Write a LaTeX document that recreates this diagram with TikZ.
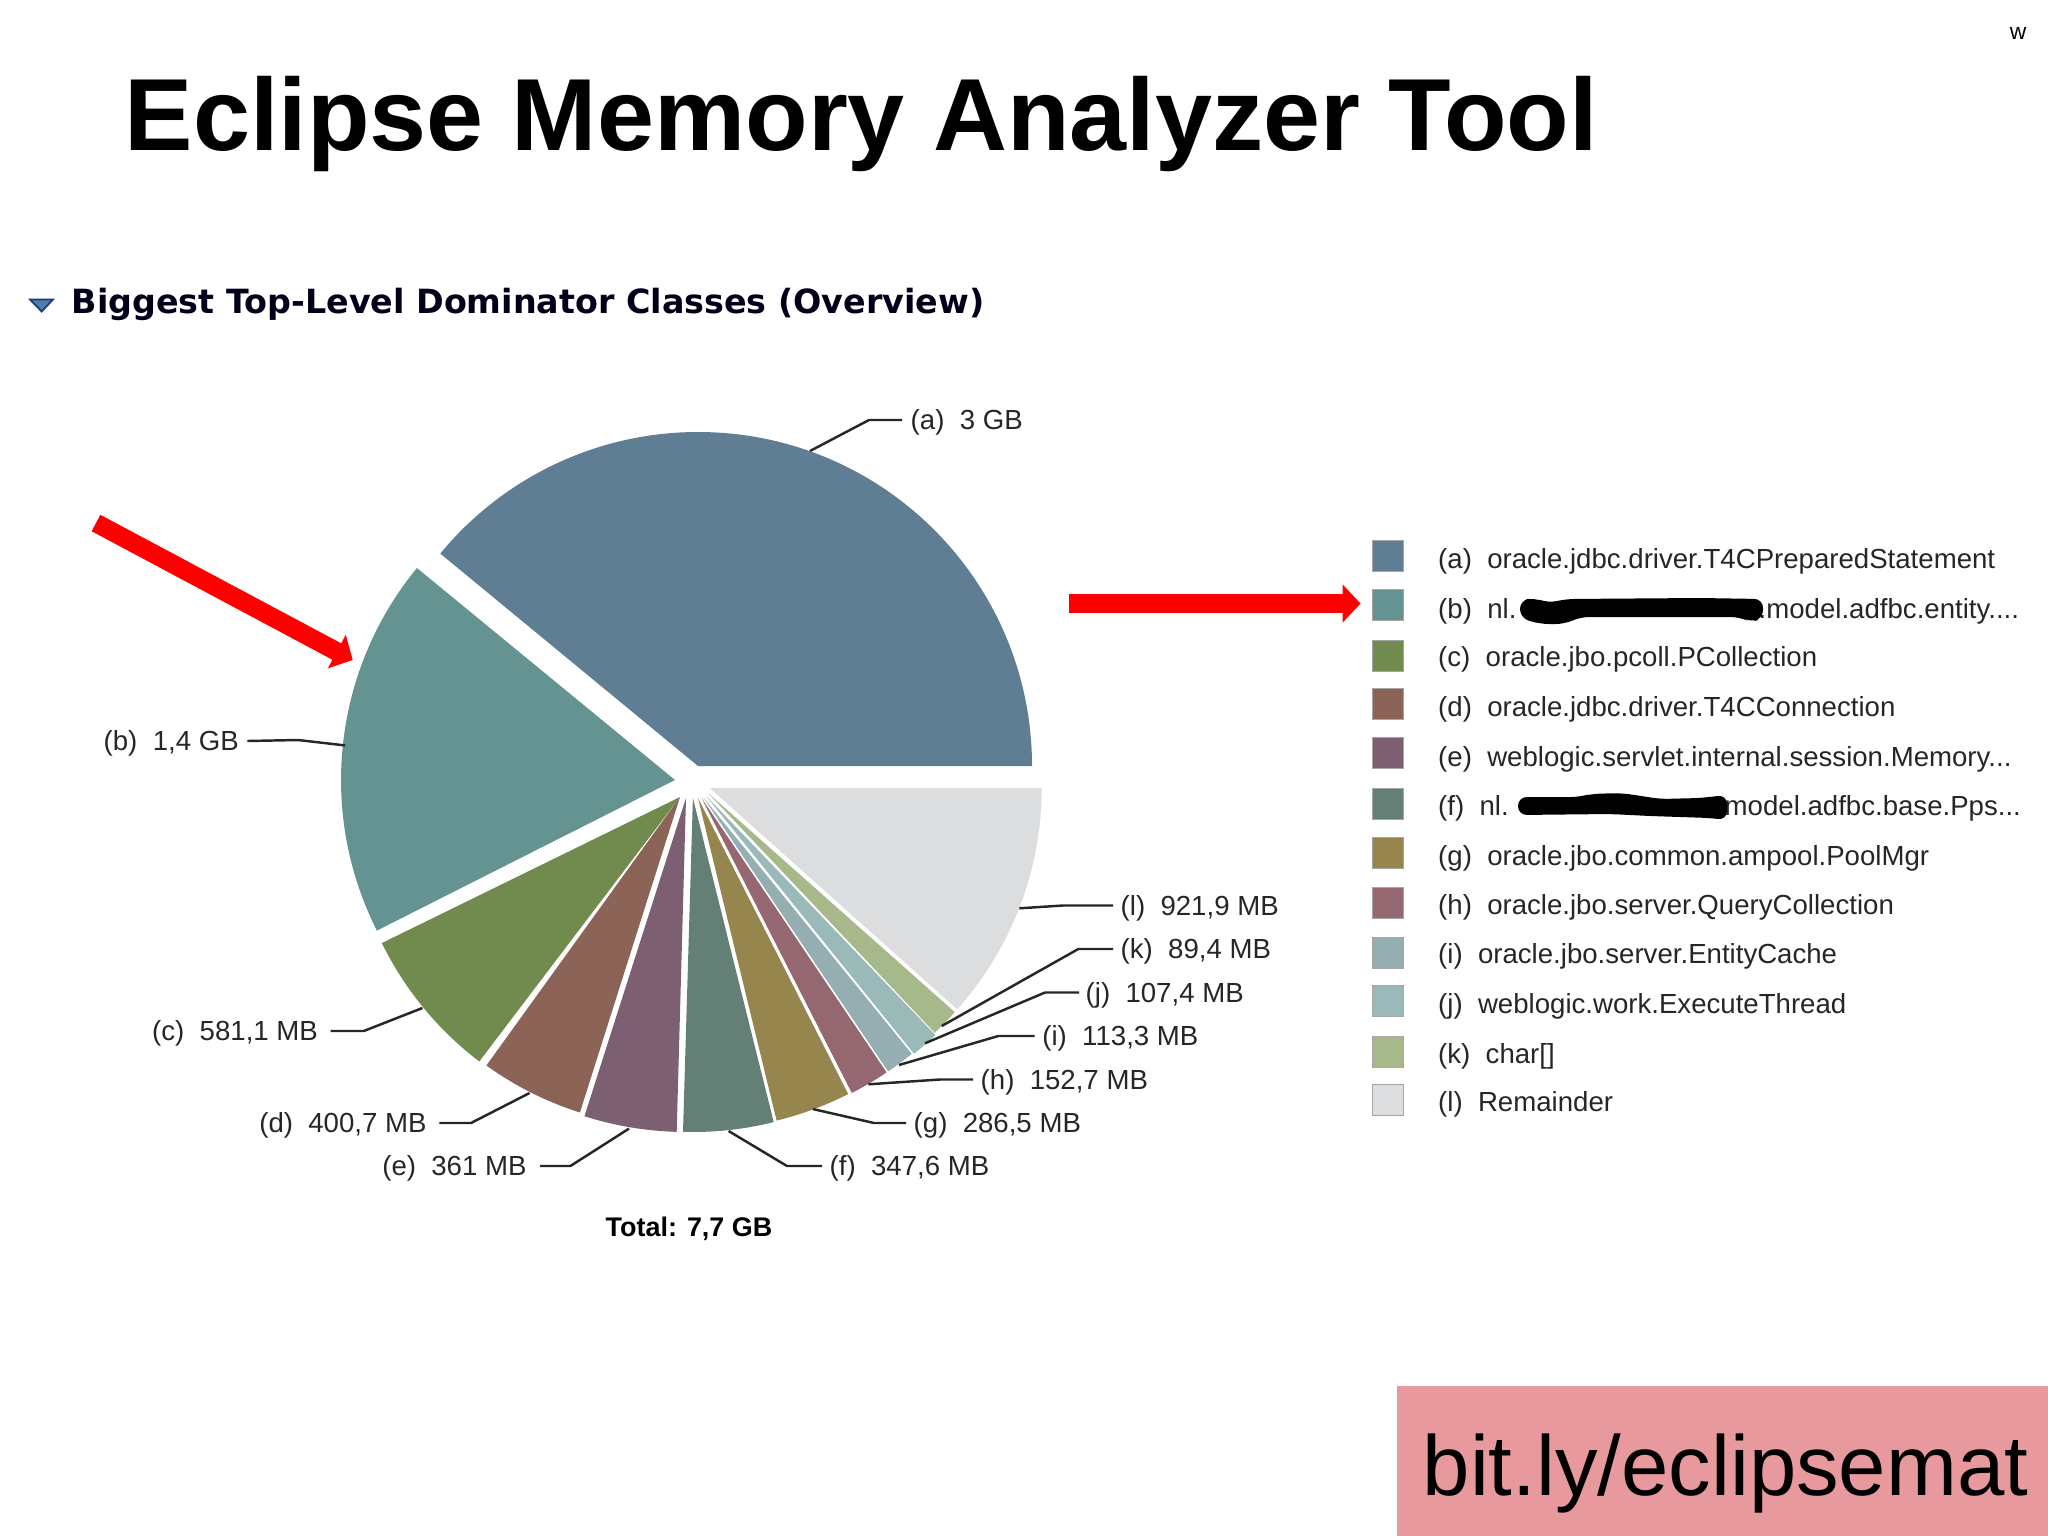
\documentclass[tikz,border=0pt]{standalone}
\usepackage{fontspec}
\setmainfont{Liberation Sans}
\newfontfamily\headfont{DejaVu Sans}
\usetikzlibrary{arrows.meta}
\definecolor{sliceA}{HTML}{5F7D93}
\definecolor{sliceB}{HTML}{649391}
\definecolor{sliceC}{HTML}{718B4F}
\definecolor{sliceD}{HTML}{8B6457}
\definecolor{sliceE}{HTML}{7D5F72}
\definecolor{sliceF}{HTML}{647F76}
\definecolor{sliceG}{HTML}{96864D}
\definecolor{sliceH}{HTML}{956770}
\definecolor{sliceI}{HTML}{94AEB2}
\definecolor{sliceJ}{HTML}{99BAB8}
\definecolor{sliceK}{HTML}{A7B88A}
\definecolor{sliceL}{HTML}{DCDDDF}
\definecolor{pinkbox}{HTML}{E8999D}
\definecolor{twistfill}{HTML}{4A7FA8}
\definecolor{twistline}{HTML}{1F3A7A}
\newcommand{\pieslice}[6]{\fill[#1] (#2,#3) -- ++(#4:#6) arc[start angle=#4, end angle=#5, radius=#6] -- cycle;}
\tikzset{
  chartlabel/.style={anchor=west, inner sep=0pt, text height=7.2pt, text depth=1.7pt, font=\fontsize{7.85}{9}\selectfont, text=black!85},
  legendtext/.style={anchor=west, inner sep=0pt, text height=7.2pt, text depth=1.7pt, font=\fontsize{7.85}{9}\selectfont, text=black!85},
  swatch/.style={draw=black!35, line width=0.3pt, minimum width=0.31cm, minimum height=0.31cm, inner sep=0pt},
  leader/.style={draw=black!85, line width=0.7pt},
  redarrow/.style={draw=red, line width=0.186cm, -{Triangle[length=0.18cm,width=0.37cm]}},
}
\begin{document}
\begin{tikzpicture}[x=0.01cm, y=0.01cm]
\useasboundingbox (0,0) rectangle (2048,-1536);
% Headings
\node[anchor=base west, inner sep=0pt, font=\fontsize{29.14}{32}\selectfont\bfseries] (title) at (124,-150) {Eclipse Memory Analyzer Tool};
\node[inner sep=0pt, font=\fontsize{6.5}{8}\selectfont] (corner) at (2018,-33) {w};
\node[anchor=west, inner sep=0pt, font=\headfont\fontsize{9.48}{10}\selectfont\bfseries, text=black!90!blue] (heading) at (71,-304.5) {Biggest Top-Level Dominator Classes (Overview)};
\fill[twistfill, draw=twistline, line width=0.5pt] (30,-299.5) -- (53,-299.5) -- (41.7,-311.5) -- cycle;
% Pie
\pieslice{sliceA}{698}{-766}{0}{140.5}{334}
\pieslice{sliceB}{675}{-780}{140.6}{206.8}{334}
\pieslice{sliceC}{680}{-797}{206.1}{232.8}{332}
\pieslice{sliceD}{680}{-797}{234.2}{252.4}{331}
\pieslice{sliceE}{686}{-798}{252.3}{268.4}{334}
\pieslice{sliceF}{692.9}{-798}{268.3}{284}{334}
\pieslice{sliceG}{698}{-798}{283.7}{296.9}{332}
\pieslice{sliceH}{701.5}{-798}{297}{304}{331}
\pieslice{sliceI}{703}{-797}{304}{309.1}{331}
\pieslice{sliceJ}{705.6}{-795.4}{308.9}{313.8}{332}
\pieslice{sliceK}{708}{-793}{313.4}{318.4}{330}
\pieslice{sliceL}{709.7}{-788}{318.2}{360}{332}
% Chart labels
\node[chartlabel] (labela) at (910,-420) {(a)~~3 GB};
\node[chartlabel] (labelb) at (103,-741) {(b)~~1,4 GB};
\node[chartlabel] (labelc) at (151.5,-1031) {(c)~~581,1 MB};
\node[chartlabel] (labeld) at (258.6,-1123) {(d)~~400,7 MB};
\node[chartlabel] (labele) at (381.6,-1166) {(e)~~361 MB};
\node[chartlabel] (labelf) at (829,-1166) {(f)~~347,6 MB};
\node[chartlabel] (labelg) at (913,-1123) {(g)~~286,5 MB};
\node[chartlabel] (labelh) at (980,-1079.5) {(h)~~152,7 MB};
\node[chartlabel] (labeli) at (1041.7,-1036) {(i)~~113,3 MB};
\node[chartlabel] (labelj) at (1085,-992.5) {(j)~~107,4 MB};
\node[chartlabel] (labelk) at (1120,-949) {(k)~~89,4 MB};
\node[chartlabel] (labell) at (1120,-905.5) {(l)~~921,9 MB};
\node[anchor=west, inner sep=0pt, font=\fontsize{7.66}{9}\selectfont\bfseries] (total) at (605,-1228.5) {Total: 7,7 GB};
% Leader lines
\coordinate (tipa) at (810,-451);
\coordinate (benda) at (869,-420);
\coordinate (tipb) at (345,-745.4);
\coordinate (bendb) at (298,-740);
\coordinate (tipc) at (422.4,-1008);
\coordinate (bendc) at (363.8,-1031);
\coordinate (tipd) at (529.6,-1093);
\coordinate (bendd) at (471,-1123);
\coordinate (tipe) at (629,-1128.6);
\coordinate (bende) at (570.4,-1166);
\coordinate (tipf) at (728.6,-1131);
\coordinate (bendf) at (787,-1166);
\coordinate (tipg) at (812.8,-1109);
\coordinate (bendg) at (874,-1123);
\coordinate (tiph) at (868.3,-1084.3);
\coordinate (bendh) at (940,-1079.5);
\coordinate (tipi) at (899,-1065);
\coordinate (bendi) at (998.3,-1036);
\coordinate (tipj) at (925,-1043.3);
\coordinate (bendj) at (1045,-992.5);
\coordinate (tipk) at (941.7,-1026);
\coordinate (bendk) at (1078.3,-949);
\coordinate (tipl) at (1019.3,-908.3);
\coordinate (bendl) at (1063,-905.5);
\draw[leader] (tipa) -- (benda) -- ([xshift=-0.08cm]labela.west);
\draw[leader] (tipb) -- (bendb) -- ([xshift=0.08cm]labelb.east);
\draw[leader] (tipc) -- (bendc) -- ([xshift=0.12cm]labelc.east);
\draw[leader] (tipd) -- (bendd) -- ([xshift=0.12cm]labeld.east);
\draw[leader] (tipe) -- (bende) -- ([xshift=0.13cm]labele.east);
\draw[leader] (tipf) -- (bendf) -- ([xshift=-0.07cm]labelf.west);
\draw[leader] (tipg) -- (bendg) -- ([xshift=-0.07cm]labelg.west);
\draw[leader] (tiph) -- (bendh) -- ([xshift=-0.07cm]labelh.west);
\draw[leader] (tipi) -- (bendi) -- ([xshift=-0.07cm]labeli.west);
\draw[leader] (tipj) -- (bendj) -- ([xshift=-0.06cm]labelj.west);
\draw[leader] (tipk) -- (bendk) -- ([xshift=-0.07cm]labelk.west);
\draw[leader] (tipl) -- (bendl) -- ([xshift=-0.07cm]labell.west);
% Legend
\node[swatch, fill=sliceA] (keya) at (1388,-556) {};
\node[swatch, fill=sliceB] (keyb) at (1388,-605) {};
\node[swatch, fill=sliceC] (keyc) at (1388,-656) {};
\node[swatch, fill=sliceD] (keyd) at (1388,-704) {};
\node[swatch, fill=sliceE] (keye) at (1388,-753) {};
\node[swatch, fill=sliceF] (keyf) at (1388,-804) {};
\node[swatch, fill=sliceG] (keyg) at (1388,-853) {};
\node[swatch, fill=sliceH] (keyh) at (1388,-903) {};
\node[swatch, fill=sliceI] (keyi) at (1388,-953) {};
\node[swatch, fill=sliceJ] (keyj) at (1388,-1001) {};
\node[swatch, fill=sliceK] (keyk) at (1388,-1052) {};
\node[swatch, fill=sliceL] (keyl) at (1388,-1100) {};
\node[legendtext] (texta) at (1437.5,-559) {(a)~~oracle.jdbc.driver.T4CPreparedStatement};
\node[legendtext] (textb) at (1437.5,-609) {(b)~~nl.};
\node[legendtext] (textbb) at (1758,-609) {.model.adfbc.entity....};
\node[legendtext] (textc) at (1437.5,-657) {(c)~~oracle.jbo.pcoll.PCollection};
\node[legendtext] (textd) at (1437.5,-707) {(d)~~oracle.jdbc.driver.T4CConnection};
\node[legendtext] (texte) at (1437.5,-757) {(e)~~weblogic.servlet.internal.session.Memory...};
\node[legendtext] (textf) at (1437.5,-806) {(f)~~nl.};
\node[legendtext] (textff) at (1724,-806) {model.adfbc.base.Pps...};
\node[legendtext] (textg) at (1437.5,-856) {(g)~~oracle.jbo.common.ampool.PoolMgr};
\node[legendtext] (texth) at (1437.5,-905) {(h)~~oracle.jbo.server.QueryCollection};
\node[legendtext] (texti) at (1437.5,-954) {(i)~~oracle.jbo.server.EntityCache};
\node[legendtext] (textj) at (1437.5,-1004) {(j)~~weblogic.work.ExecuteThread};
\node[legendtext] (textk) at (1437.5,-1054) {(k)~~char[]};
\node[legendtext] (textl) at (1437.5,-1102) {(l)~~Remainder};
% Scribbles over the names
\fill[black, rounded corners=2.5] (1520,-600) -- (1535,-598) -- (1548,-603) -- (1566,-599) -- (1700,-598) -- (1763,-599) -- (1763,-619) -- (1750,-622) -- (1740,-617) -- (1580,-617) -- (1565,-624) -- (1540,-624) -- (1520,-618) -- cycle;
\fill[black, rounded corners=2.5] (1518,-797) -- (1580,-797) -- (1590,-794) -- (1620,-793) -- (1635,-795) -- (1660,-799) -- (1700,-798) -- (1727,-795) -- (1727,-820) -- (1710,-818) -- (1650,-816) -- (1610,-814) -- (1518,-815) -- cycle;
% Red arrows
\coordinate (taildiag) at (96,-523);
\coordinate (tipdiag) at (352.7,-660);
\coordinate (tailflat) at (1069,-603.5);
\coordinate (tipflat) at (1360.6,-603.5);
\draw[redarrow] (taildiag) -- (tipdiag);
\draw[redarrow] (tailflat) -- (tipflat);
% Link box
\node[anchor=north west, fill=pinkbox, minimum width=6.52cm, minimum height=1.504cm, inner sep=0pt] (linkbox) at (1396,-1385.6) {};
\node[anchor=base west, inner sep=0pt, font=\fontsize{24.2}{28}\selectfont] (linktext) at (1422,-1495) {bit.ly/eclipsemat};
\end{tikzpicture}
\end{document}
